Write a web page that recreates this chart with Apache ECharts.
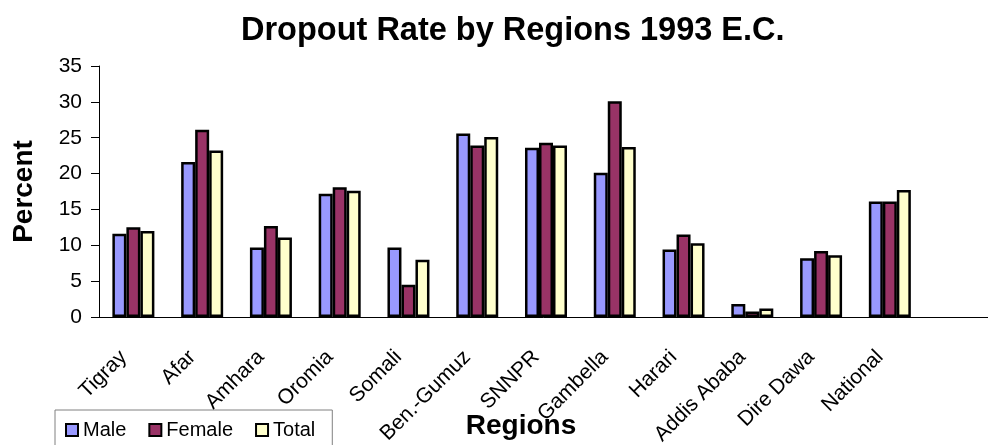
<!DOCTYPE html>
<html>
  <head>
    <title>Dropout Rate by Regions 1993 E.C.</title>
    <meta charset="UTF-8" />
    <script src="https://cdn.jsdelivr.net/npm/echarts@6/dist/echarts.min.js"></script>
    <style>
      body { margin: 0; background: #fff; }
    </style>
  </head>
  <body>
    <div id="main"></div>
    <script>
      const width = 988;
      const height = 445;
      const main = document.getElementById('main');
      main.style.width = `${width}px`;
      main.style.height = `${height}px`;

      // the 13th slot is empty in the original, the axis just runs on
      const regions = ['Tigray', 'Afar', 'Amhara', 'Oromia', 'Somali', 'Ben.-Gumuz', 'SNNPR',
        'Gambella', 'Harari', 'Addis Ababa', 'Dire Dawa', 'National', ''];
      const male = [11.6, 21.6, 9.7, 17.2, 9.7, 25.6, 23.6, 20.1, 9.4, 1.8, 8.2, 16.1, '-'];
      const female = [12.5, 26.1, 12.7, 18.1, 4.5, 23.9, 24.3, 30.1, 11.5, 0.75, 9.2, 16.1, '-'];
      const total = [12.0, 23.2, 11.1, 17.6, 8.0, 25.1, 23.9, 23.7, 10.3, 1.2, 8.6, 17.7, '-'];
      const yTicks = [0, 5, 10, 15, 20, 25, 30, 35];

      const font = 'Liberation Sans, Arial, sans-serif';
      const myChart = echarts.init(main);

      function barSeries(name, data, color) {
        return {
          name: name,
          type: 'bar',
          data: data,
          barWidth: 14,
          barGap: '0%',
          itemStyle: { color: color, borderColor: '#000', borderWidth: 2.5 },
        };
      }

      const option = {
        animation: false,
        backgroundColor: '#fff',
        textStyle: { fontFamily: font, color: '#000' },
        title: {
          text: 'Dropout Rate by Regions 1993 E.C.',
          left: 236,
          top: 10,
          textStyle: { fontFamily: font, fontSize: 32.5, fontWeight: 'bold', color: '#000' },
        },
        legend: {
          left: 55,
          top: 410,
          padding: [10, 17, 20, 10],
          itemWidth: 12,
          itemHeight: 12,
          itemGap: 22,
          icon: 'rect',
          borderColor: '#808080',
          borderWidth: 1,
          textStyle: { fontFamily: font, fontSize: 20, color: '#000' },
          data: ['Male', 'Female', 'Total'],
        },
        grid: {
          left: 99,
          right: -5,
          top: 66,
          bottom: 128,
          outerBoundsMode: 'none',
        },
        xAxis: {
          type: 'category',
          data: regions,
          name: 'Regions',
          nameLocation: 'middle',
          nameGap: 95,
          nameMoveOverlap: false,
          nameTextStyle: {
            fontFamily: font, fontSize: 28, fontWeight: 'bold', color: '#000',
            padding: [0, 50, 0, 0],
          },
          axisLine: { lineStyle: { color: '#000', width: 1 } },
          axisTick: { length: 6, lineStyle: { color: '#000' } },
          axisLabel: {
            interval: 0,
            rotate: 45,
            margin: 27,
            padding: [0, 14, 0, 0],
            fontFamily: font,
            fontSize: 21,
            color: '#000',
          },
          splitLine: { show: false },
        },
        yAxis: {
          type: 'value',
          min: yTicks[0],
          max: yTicks[yTicks.length - 1],
          interval: 5,
          name: 'Percent',
          nameLocation: 'middle',
          nameGap: 61,
          nameMoveOverlap: false,
          nameTextStyle: { fontFamily: font, fontSize: 28, fontWeight: 'bold', color: '#000' },
          axisLine: { show: true, lineStyle: { color: '#000', width: 1 } },
          axisTick: { show: true, length: 8, lineStyle: { color: '#000' } },
          axisLabel: { margin: 17, fontFamily: font, fontSize: 21, color: '#000' },
          splitLine: { show: false },
        },
        series: [
          barSeries('Male', male, '#9999FF'),
          barSeries('Female', female, '#993366'),
          barSeries('Total', total, '#FFFFCC'),
        ],
      };
      myChart.setOption(option);
    </script>
  </body>
</html>
